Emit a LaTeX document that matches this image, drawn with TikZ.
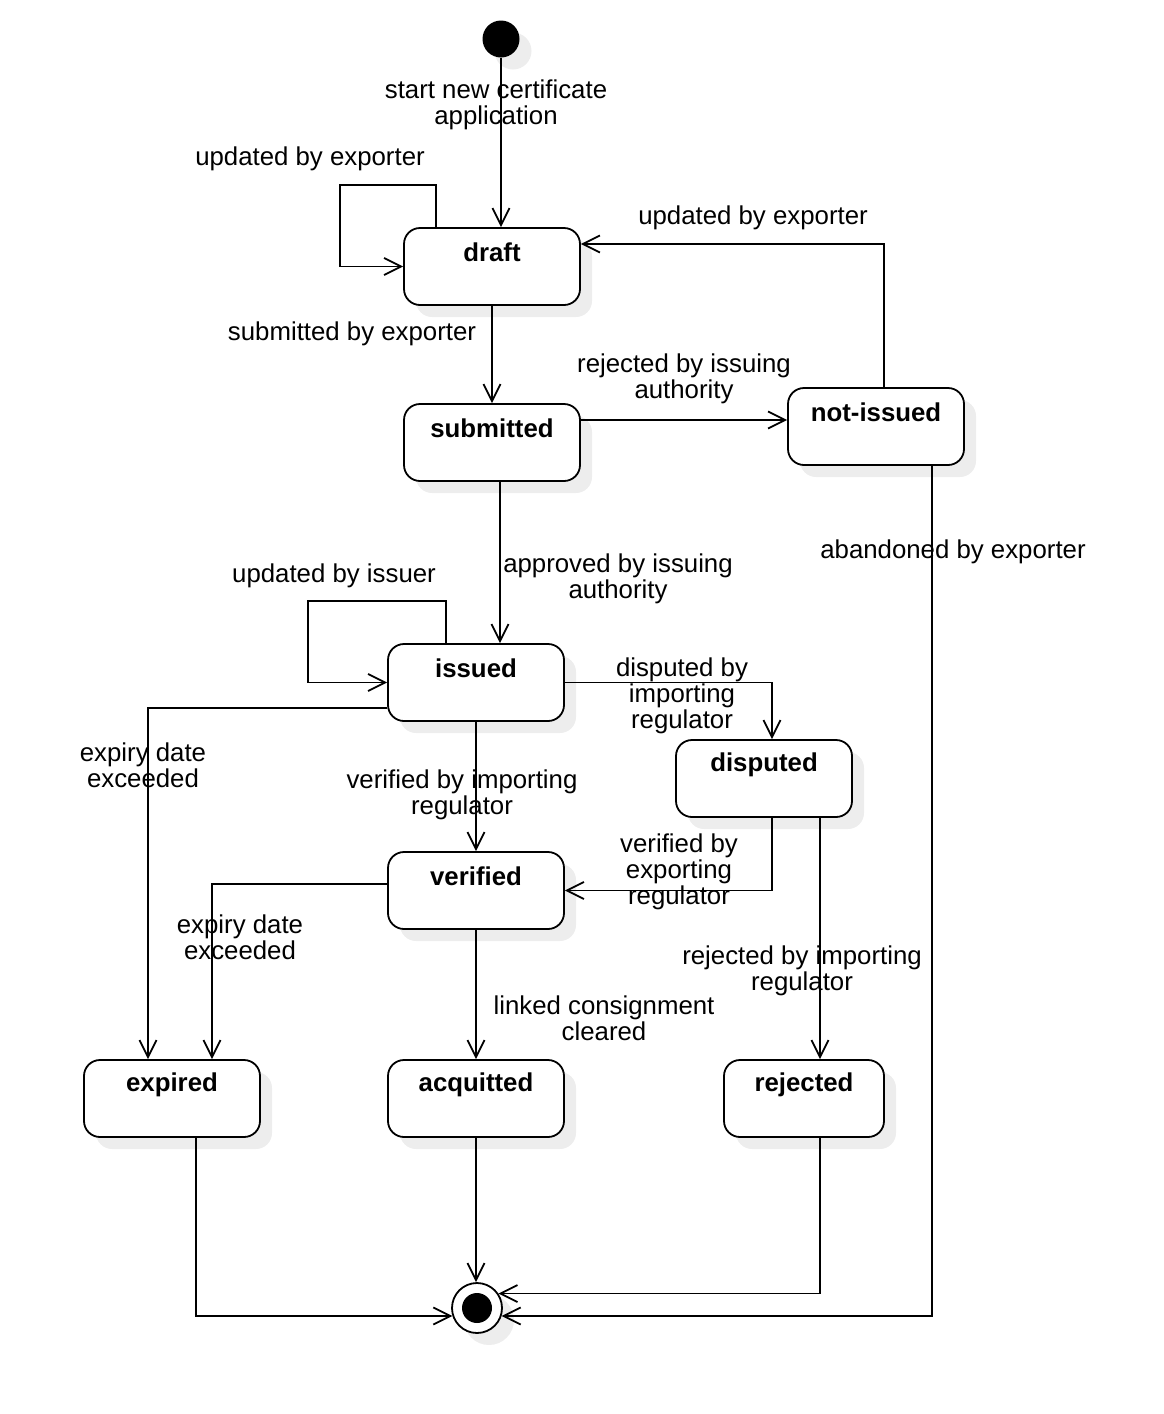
\documentclass[tikz,border=0pt]{standalone}
\usepackage{fontspec}
\setmainfont{Liberation Sans}
\usetikzlibrary{arrows.meta,shadows}
\begin{document}
\begin{tikzpicture}[x=1pt,y=-1pt,
  every node/.style={font=\fontsize{25.8}{26}\selectfont},
  state/.style={draw, line width=1.8pt, rounded corners=16pt, fill=white, minimum height=77pt, inner sep=0pt,
    general shadow={fill=black!7, shadow xshift=12pt, shadow yshift=-12pt}},
  stext/.style={font=\fontsize{25.8}{26}\selectfont\bfseries, inner sep=0pt},
  lbl/.style={align=center, inner sep=0pt},
  arr/.style={line width=1.8pt, -{Straight Barb[length=17pt,width=17pt,line width=1.8pt]}},
  ln/.style={line width=1.8pt}
]
\useasboundingbox (0,0) rectangle (1164,1414);

% initial and final
\node[circle, fill=black, minimum size=37pt, inner sep=0pt,
  general shadow={fill=black!7, shadow xshift=12pt, shadow yshift=-12pt}] (init) at (501,39) {};
\node[circle, draw, line width=1.8pt, fill=white, minimum size=50pt, inner sep=0pt,
  general shadow={fill=black!7, shadow xshift=12pt, shadow yshift=-12pt}] (final) at (477,1308) {};
\node[circle, fill=black, minimum size=30pt, inner sep=0pt] (finaldot) at (final) {};

% states
\node[state, minimum width=176pt] (draft) at (492,266.5) {};
\node[stext] (draft-t) at ([yshift=-25.5pt]draft.north) {draft};
\node[state, minimum width=176pt] (submitted) at (492,442.5) {};
\node[stext] (submitted-t) at ([yshift=-25.5pt]submitted.north) {submitted};
\node[state, minimum width=176pt] (notissued) at (876,426.5) {};
\node[stext] (notissued-t) at ([yshift=-25.5pt]notissued.north) {not-issued};
\node[state, minimum width=176pt] (issued) at (476,682.5) {};
\node[stext] (issued-t) at ([yshift=-25.5pt]issued.north) {issued};
\node[state, minimum width=176pt] (disputed) at (764,778.5) {};
\node[stext] (disputed-t) at ([yshift=-25.5pt]disputed.north) {disputed};
\node[state, minimum width=176pt] (verified) at (476,890.5) {};
\node[stext] (verified-t) at ([yshift=-25.5pt]verified.north) {verified};
\node[state, minimum width=176pt] (expired) at (172,1098.5) {};
\node[stext] (expired-t) at ([yshift=-25.5pt]expired.north) {expired};
\node[state, minimum width=176pt] (acquitted) at (476,1098.5) {};
\node[stext] (acquitted-t) at ([yshift=-25.5pt]acquitted.north) {acquitted};
\node[state, minimum width=160pt] (rejected) at (804,1098.5) {};
\node[stext] (rejected-t) at ([yshift=-25.5pt]rejected.north) {rejected};

% connectors
\draw[arr] (init.south) -- (init.south |- draft.north);
\draw[arr] ([xshift=-56pt]draft.north) -- ++(0,-42) -- ++(-96,0) |- (draft.west);
\draw[arr] (draft) -- (submitted);
\coordinate (c1) at ([yshift=22.5pt]submitted.east);
\draw[arr] (c1) -- (c1 -| notissued.west);
\draw[arr] ([xshift=8pt]notissued.north) |- ([yshift=22.5pt]draft.east);
\draw[arr] ([xshift=8pt]submitted.south) -- ([xshift=24pt]issued.north);
\draw[arr] ([xshift=56pt]notissued.south) |- (final.-18.7);
\draw[arr] ([xshift=-30pt]issued.north) -- ++(0,-42) -- ++(-138,0) |- (issued.west);
\draw[arr] (issued.east) -| ([xshift=8pt]disputed.north);
\draw[arr] ([yshift=-25.5pt]issued.west) -| ([xshift=-24pt]expired.north);
\draw[arr] (issued) -- (verified);
\draw[arr] ([xshift=8pt]disputed.south) |- (verified.east);
\draw[arr] ([xshift=56pt]disputed.south) -- ([xshift=16pt]rejected.north);
\draw[arr] ([yshift=6.5pt]verified.west) -| ([xshift=40pt]expired.north);
\draw[arr] (verified) -- (acquitted);
\draw[arr] ([xshift=24pt]expired.south) |- (final.198.7);
\draw[arr] (acquitted.south) -- (acquitted.south |- final.north);
\draw[arr] ([xshift=16pt]rejected.south) |- (final.34);

% labels
\node[lbl] (l1) at (496,105) {start new certificate\\application};
\node[lbl] (l2) at (310,159) {updated by exporter};
\node[lbl] (l3) at (352,334) {submitted by exporter};
\node[lbl] (l4) at (684,379) {rejected by issuing\\authority};
\node[lbl] (l5) at (753,218) {updated by exporter};
\node[lbl] (l6) at (618,579) {approved by issuing\\authority};
\node[lbl] (l7) at (953,552) {abandoned by exporter};
\node[lbl] (l8) at (334,576) {updated by issuer};
\node[lbl] (l9) at (682,696) {disputed by\\importing\\regulator};
\node[lbl] (l10) at (143,765) {expiry date\\exceeded};
\node[lbl] (l11) at (462,795) {verified by importing\\regulator};
\node[lbl] (l12) at (679,872) {verified by\\exporting\\regulator};
\node[lbl] (l13) at (802,971) {rejected by importing\\regulator};
\node[lbl] (l14) at (240,937) {expiry date\\exceeded};
\node[lbl] (l15) at (604,1018) {linked consignment\\cleared};
\end{tikzpicture}
\end{document}
